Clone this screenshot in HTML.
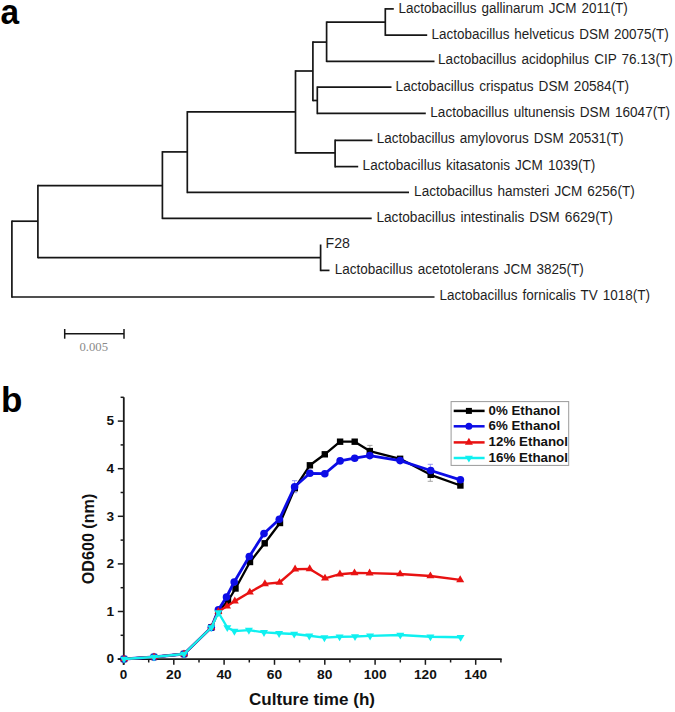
<!DOCTYPE html>
<html><head><meta charset="utf-8"><style>
html,body{margin:0;padding:0;background:#fff;}
svg{display:block;}
text{font-family:"Liberation Sans",sans-serif;}
</style></head><body>
<svg width="675" height="712" viewBox="0 0 675 712">
<rect width="675" height="712" fill="#fff"/>
<text x="0.6" y="23.6" font-size="35.5" font-weight="bold" fill="#000" textLength="18.6" lengthAdjust="spacingAndGlyphs">a</text>
<text x="0.9" y="412.2" font-size="35" font-weight="bold" fill="#000">b</text>
<g><line x1="385.3" y1="8.9" x2="393.8" y2="8.9" stroke="#161616" stroke-width="1.7"/><line x1="385.3" y1="35.1" x2="427.2" y2="35.1" stroke="#161616" stroke-width="1.7"/><line x1="385.3" y1="8.1" x2="385.3" y2="35.9" stroke="#161616" stroke-width="1.7"/><line x1="326.6" y1="22.2" x2="385.3" y2="22.2" stroke="#161616" stroke-width="1.7"/><line x1="326.6" y1="21.4" x2="326.6" y2="62.1" stroke="#161616" stroke-width="1.7"/><line x1="326.6" y1="61.3" x2="434.5" y2="61.3" stroke="#161616" stroke-width="1.7"/><line x1="312.9" y1="42.1" x2="326.6" y2="42.1" stroke="#161616" stroke-width="1.7"/><line x1="312.9" y1="41.3" x2="312.9" y2="101.3" stroke="#161616" stroke-width="1.7"/><line x1="312.9" y1="100.5" x2="317.3" y2="100.5" stroke="#161616" stroke-width="1.7"/><line x1="317.3" y1="86.4" x2="317.3" y2="114.2" stroke="#161616" stroke-width="1.7"/><line x1="317.3" y1="87.2" x2="391.5" y2="87.2" stroke="#161616" stroke-width="1.7"/><line x1="317.3" y1="113.4" x2="425.8" y2="113.4" stroke="#161616" stroke-width="1.7"/><line x1="295.5" y1="71" x2="312.9" y2="71" stroke="#161616" stroke-width="1.7"/><line x1="295.5" y1="70.2" x2="295.5" y2="153.7" stroke="#161616" stroke-width="1.7"/><line x1="295.5" y1="152.9" x2="335.1" y2="152.9" stroke="#161616" stroke-width="1.7"/><line x1="335.1" y1="139.6" x2="335.1" y2="167.4" stroke="#161616" stroke-width="1.7"/><line x1="335.1" y1="140.4" x2="372.4" y2="140.4" stroke="#161616" stroke-width="1.7"/><line x1="335.1" y1="166.6" x2="358.2" y2="166.6" stroke="#161616" stroke-width="1.7"/><line x1="187.3" y1="111.9" x2="295.5" y2="111.9" stroke="#161616" stroke-width="1.7"/><line x1="187.3" y1="111.1" x2="187.3" y2="193.2" stroke="#161616" stroke-width="1.7"/><line x1="187.3" y1="192.4" x2="409" y2="192.4" stroke="#161616" stroke-width="1.7"/><line x1="162.4" y1="151.9" x2="187.3" y2="151.9" stroke="#161616" stroke-width="1.7"/><line x1="162.4" y1="151.1" x2="162.4" y2="219.1" stroke="#161616" stroke-width="1.7"/><line x1="162.4" y1="218.3" x2="371.7" y2="218.3" stroke="#161616" stroke-width="1.7"/><line x1="37.9" y1="185.6" x2="162.4" y2="185.6" stroke="#161616" stroke-width="1.7"/><line x1="37.9" y1="184.8" x2="37.9" y2="258.2" stroke="#161616" stroke-width="1.7"/><line x1="37.9" y1="257.6" x2="320.6" y2="257.6" stroke="#161616" stroke-width="1.7"/><line x1="320.6" y1="244.5" x2="320.6" y2="271.2" stroke="#161616" stroke-width="1.7"/><line x1="320.6" y1="270.4" x2="329.5" y2="270.4" stroke="#161616" stroke-width="1.7"/><line x1="11.9" y1="221.2" x2="37.9" y2="221.2" stroke="#161616" stroke-width="1.7"/><line x1="11.9" y1="220.4" x2="11.9" y2="297.8" stroke="#161616" stroke-width="1.7"/><line x1="11.9" y1="297" x2="434.5" y2="297" stroke="#161616" stroke-width="1.7"/><line x1="64.7" y1="333.7" x2="124" y2="333.7" stroke="#161616" stroke-width="1.5"/><line x1="64.7" y1="329" x2="64.7" y2="338.7" stroke="#161616" stroke-width="1.5"/><line x1="124" y1="329" x2="124" y2="338.7" stroke="#161616" stroke-width="1.5"/></g>
<g font-size="14" fill="#1e1e1e" word-spacing="1.3"><text x="398.6" y="12.7" textLength="229.1" lengthAdjust="spacingAndGlyphs">Lactobacillus gallinarum JCM 2011(T)</text><text x="431.6" y="38.8" textLength="237.1" lengthAdjust="spacingAndGlyphs">Lactobacillus helveticus DSM 20075(T)</text><text x="438.1" y="64.2" textLength="234.6" lengthAdjust="spacingAndGlyphs">Lactobacillus acidophilus CIP 76.13(T)</text><text x="395.6" y="90.6" textLength="233.4" lengthAdjust="spacingAndGlyphs">Lactobacillus crispatus DSM 20584(T)</text><text x="430.3" y="117.1" textLength="239.7" lengthAdjust="spacingAndGlyphs">Lactobacillus ultunensis DSM 16047(T)</text><text x="376.8" y="142.9" textLength="246.6" lengthAdjust="spacingAndGlyphs">Lactobacillus amylovorus DSM 20531(T)</text><text x="362.6" y="170.0" textLength="232.8" lengthAdjust="spacingAndGlyphs">Lactobacillus kitasatonis JCM 1039(T)</text><text x="414.1" y="195.8" textLength="220.6" lengthAdjust="spacingAndGlyphs">Lactobacillus hamsteri JCM 6256(T)</text><text x="376.4" y="221.7" textLength="236.3" lengthAdjust="spacingAndGlyphs">Lactobacillus intestinalis DSM 6629(T)</text><text x="325.5" y="247.8" textLength="24.4" lengthAdjust="spacingAndGlyphs">F28</text><text x="334.8" y="274.2" textLength="248.9" lengthAdjust="spacingAndGlyphs">Lactobacillus acetotolerans JCM 3825(T)</text><text x="439.4" y="300.4" textLength="210.6" lengthAdjust="spacingAndGlyphs">Lactobacillus fornicalis TV 1018(T)</text></g>
<text x="79.5" y="351.4" font-size="13.3" fill="#8a8a8a" style="font-family:'Liberation Serif',serif" textLength="28.5" lengthAdjust="spacingAndGlyphs">0.005</text>
<g><line x1="123.8" y1="397.3" x2="123.8" y2="664.8" stroke="#1a1a1a" stroke-width="1.8"/><line x1="117.8" y1="659.1" x2="501.7" y2="659.1" stroke="#1a1a1a" stroke-width="1.7"/><line x1="117.8" y1="659.1" x2="123.8" y2="659.1" stroke="#1a1a1a" stroke-width="1.5"/><line x1="120.6" y1="635.3" x2="123.8" y2="635.3" stroke="#1a1a1a" stroke-width="1.5"/><line x1="117.8" y1="611.5" x2="123.8" y2="611.5" stroke="#1a1a1a" stroke-width="1.5"/><line x1="120.6" y1="587.7" x2="123.8" y2="587.7" stroke="#1a1a1a" stroke-width="1.5"/><line x1="117.8" y1="563.9" x2="123.8" y2="563.9" stroke="#1a1a1a" stroke-width="1.5"/><line x1="120.6" y1="540.1" x2="123.8" y2="540.1" stroke="#1a1a1a" stroke-width="1.5"/><line x1="117.8" y1="516.3" x2="123.8" y2="516.3" stroke="#1a1a1a" stroke-width="1.5"/><line x1="120.6" y1="492.5" x2="123.8" y2="492.5" stroke="#1a1a1a" stroke-width="1.5"/><line x1="117.8" y1="468.7" x2="123.8" y2="468.7" stroke="#1a1a1a" stroke-width="1.5"/><line x1="120.6" y1="444.9" x2="123.8" y2="444.9" stroke="#1a1a1a" stroke-width="1.5"/><line x1="117.8" y1="421.1" x2="123.8" y2="421.1" stroke="#1a1a1a" stroke-width="1.5"/><line x1="120.6" y1="397.3" x2="123.8" y2="397.3" stroke="#1a1a1a" stroke-width="1.5"/><line x1="123.5" y1="659.1" x2="123.5" y2="664.8" stroke="#1a1a1a" stroke-width="1.5"/><line x1="148.7" y1="659.1" x2="148.7" y2="662.5" stroke="#1a1a1a" stroke-width="1.5"/><line x1="173.8" y1="659.1" x2="173.8" y2="664.8" stroke="#1a1a1a" stroke-width="1.5"/><line x1="199.0" y1="659.1" x2="199.0" y2="662.5" stroke="#1a1a1a" stroke-width="1.5"/><line x1="224.1" y1="659.1" x2="224.1" y2="664.8" stroke="#1a1a1a" stroke-width="1.5"/><line x1="249.3" y1="659.1" x2="249.3" y2="662.5" stroke="#1a1a1a" stroke-width="1.5"/><line x1="274.5" y1="659.1" x2="274.5" y2="664.8" stroke="#1a1a1a" stroke-width="1.5"/><line x1="299.6" y1="659.1" x2="299.6" y2="662.5" stroke="#1a1a1a" stroke-width="1.5"/><line x1="324.8" y1="659.1" x2="324.8" y2="664.8" stroke="#1a1a1a" stroke-width="1.5"/><line x1="349.9" y1="659.1" x2="349.9" y2="662.5" stroke="#1a1a1a" stroke-width="1.5"/><line x1="375.1" y1="659.1" x2="375.1" y2="664.8" stroke="#1a1a1a" stroke-width="1.5"/><line x1="400.3" y1="659.1" x2="400.3" y2="662.5" stroke="#1a1a1a" stroke-width="1.5"/><line x1="425.4" y1="659.1" x2="425.4" y2="664.8" stroke="#1a1a1a" stroke-width="1.5"/><line x1="450.6" y1="659.1" x2="450.6" y2="662.5" stroke="#1a1a1a" stroke-width="1.5"/><line x1="475.7" y1="659.1" x2="475.7" y2="664.8" stroke="#1a1a1a" stroke-width="1.5"/><line x1="500.9" y1="659.1" x2="500.9" y2="662.5" stroke="#1a1a1a" stroke-width="1.5"/></g>
<g font-size="12.5" font-weight="bold" fill="#111"><text x="114.2" y="663.4" text-anchor="end" textLength="7.6" lengthAdjust="spacingAndGlyphs">0</text><text x="114.2" y="615.8" text-anchor="end" textLength="7.6" lengthAdjust="spacingAndGlyphs">1</text><text x="114.2" y="568.2" text-anchor="end" textLength="7.6" lengthAdjust="spacingAndGlyphs">2</text><text x="114.2" y="520.6" text-anchor="end" textLength="7.6" lengthAdjust="spacingAndGlyphs">3</text><text x="114.2" y="473.0" text-anchor="end" textLength="7.6" lengthAdjust="spacingAndGlyphs">4</text><text x="114.2" y="425.4" text-anchor="end" textLength="7.6" lengthAdjust="spacingAndGlyphs">5</text><text x="119.8" y="678.8" textLength="7.5" lengthAdjust="spacingAndGlyphs">0</text><text x="166.1" y="678.8" textLength="15.4" lengthAdjust="spacingAndGlyphs">20</text><text x="216.4" y="678.8" textLength="15.4" lengthAdjust="spacingAndGlyphs">40</text><text x="266.8" y="678.8" textLength="15.4" lengthAdjust="spacingAndGlyphs">60</text><text x="317.1" y="678.8" textLength="15.4" lengthAdjust="spacingAndGlyphs">80</text><text x="363.7" y="678.8" textLength="22.8" lengthAdjust="spacingAndGlyphs">100</text><text x="414.0" y="678.8" textLength="22.8" lengthAdjust="spacingAndGlyphs">120</text><text x="464.3" y="678.8" textLength="22.8" lengthAdjust="spacingAndGlyphs">140</text></g>
<text x="249" y="705" font-size="16.5" font-weight="bold" fill="#111" textLength="126" lengthAdjust="spacingAndGlyphs">Culture time (h)</text>
<text transform="translate(93.6,584.2) rotate(-90)" font-size="16.2" font-weight="bold" fill="#111" textLength="90.5" lengthAdjust="spacingAndGlyphs">OD600 (nm)</text>
<g><line x1="294.6" y1="480.7" x2="294.6" y2="492.7" stroke="#8a8af0" stroke-width="0.9"/><line x1="292.0" y1="480.7" x2="297.20000000000005" y2="480.7" stroke="#8a8af0" stroke-width="0.9"/><line x1="292.0" y1="492.7" x2="297.20000000000005" y2="492.7" stroke="#8a8af0" stroke-width="0.9"/><line x1="369.9" y1="445.4" x2="369.9" y2="456.4" stroke="#9a9a9a" stroke-width="0.9"/><line x1="367.29999999999995" y1="445.4" x2="372.5" y2="445.4" stroke="#9a9a9a" stroke-width="0.9"/><line x1="367.29999999999995" y1="456.4" x2="372.5" y2="456.4" stroke="#9a9a9a" stroke-width="0.9"/><line x1="430.3" y1="464.3" x2="430.3" y2="474.3" stroke="#8a8af0" stroke-width="0.9"/><line x1="427.7" y1="464.3" x2="432.90000000000003" y2="464.3" stroke="#8a8af0" stroke-width="0.9"/><line x1="427.7" y1="474.3" x2="432.90000000000003" y2="474.3" stroke="#8a8af0" stroke-width="0.9"/><line x1="430.3" y1="470.1" x2="430.3" y2="481.3" stroke="#9a9a9a" stroke-width="0.9"/><line x1="427.7" y1="470.1" x2="432.90000000000003" y2="470.1" stroke="#9a9a9a" stroke-width="0.9"/><line x1="427.7" y1="481.3" x2="432.90000000000003" y2="481.3" stroke="#9a9a9a" stroke-width="0.9"/><polyline points="124,659 154,657 184,654 211.3,627.5 218.4,611 228,601 235.5,588.5 250,562 264.7,543.3 280,523 294.8,488.2 309.9,465.3 324.8,454.3 340.1,441.7 354.7,441.7 369.8,451.1 400.1,458.8 430.7,474.8 460.4,485.5" fill="none" stroke="#000000" stroke-width="2.3" stroke-linejoin="round"/><rect x="120.8" y="655.8" width="6.4" height="6.4" fill="#000000"/><rect x="150.8" y="653.8" width="6.4" height="6.4" fill="#000000"/><rect x="180.8" y="650.8" width="6.4" height="6.4" fill="#000000"/><rect x="208.1" y="624.3" width="6.4" height="6.4" fill="#000000"/><rect x="215.2" y="607.8" width="6.4" height="6.4" fill="#000000"/><rect x="224.8" y="597.8" width="6.4" height="6.4" fill="#000000"/><rect x="232.3" y="585.3" width="6.4" height="6.4" fill="#000000"/><rect x="246.8" y="558.8" width="6.4" height="6.4" fill="#000000"/><rect x="261.5" y="540.1" width="6.4" height="6.4" fill="#000000"/><rect x="276.8" y="519.8" width="6.4" height="6.4" fill="#000000"/><rect x="291.6" y="485.0" width="6.4" height="6.4" fill="#000000"/><rect x="306.7" y="462.1" width="6.4" height="6.4" fill="#000000"/><rect x="321.6" y="451.1" width="6.4" height="6.4" fill="#000000"/><rect x="336.9" y="438.5" width="6.4" height="6.4" fill="#000000"/><rect x="351.5" y="438.5" width="6.4" height="6.4" fill="#000000"/><rect x="366.6" y="447.9" width="6.4" height="6.4" fill="#000000"/><rect x="396.9" y="455.6" width="6.4" height="6.4" fill="#000000"/><rect x="427.5" y="471.6" width="6.4" height="6.4" fill="#000000"/><rect x="457.2" y="482.3" width="6.4" height="6.4" fill="#000000"/><polyline points="124,659 154,657 184,654 211.3,627.5 218.4,609.8 226.5,597 234.2,582 249.3,556.5 264,533.6 279.3,519.3 294.6,486.7 309.9,473.3 324.8,473.7 340.1,460.9 354.7,458.2 369.8,455.6 400.1,460.6 430.7,470.5 460.4,479.8" fill="none" stroke="#0c0ce6" stroke-width="2.8" stroke-linejoin="round"/><circle cx="124" cy="659" r="3.8" fill="#0c0ce6"/><circle cx="154" cy="657" r="3.8" fill="#0c0ce6"/><circle cx="184" cy="654" r="3.8" fill="#0c0ce6"/><circle cx="211.3" cy="627.5" r="3.8" fill="#0c0ce6"/><circle cx="218.4" cy="609.8" r="3.8" fill="#0c0ce6"/><circle cx="226.5" cy="597" r="3.8" fill="#0c0ce6"/><circle cx="234.2" cy="582" r="3.8" fill="#0c0ce6"/><circle cx="249.3" cy="556.5" r="3.8" fill="#0c0ce6"/><circle cx="264" cy="533.6" r="3.8" fill="#0c0ce6"/><circle cx="279.3" cy="519.3" r="3.8" fill="#0c0ce6"/><circle cx="294.6" cy="486.7" r="3.8" fill="#0c0ce6"/><circle cx="309.9" cy="473.3" r="3.8" fill="#0c0ce6"/><circle cx="324.8" cy="473.7" r="3.8" fill="#0c0ce6"/><circle cx="340.1" cy="460.9" r="3.8" fill="#0c0ce6"/><circle cx="354.7" cy="458.2" r="3.8" fill="#0c0ce6"/><circle cx="369.8" cy="455.6" r="3.8" fill="#0c0ce6"/><circle cx="400.1" cy="460.6" r="3.8" fill="#0c0ce6"/><circle cx="430.7" cy="470.5" r="3.8" fill="#0c0ce6"/><circle cx="460.4" cy="479.8" r="3.8" fill="#0c0ce6"/><polyline points="124,659 154,657 184,654 211.3,627.5 218.4,611.5 227,606.3 234.8,601.1 249.8,592.3 264.9,583.9 279.5,582.5 295.1,569.2 309.7,568.9 325,578.3 339.9,574.2 354.5,573 369.6,573.1 400.1,574 430.4,576 460.2,579.9" fill="none" stroke="#e81212" stroke-width="2.4" stroke-linejoin="round"/><path d="M124.0,654.4L128.0,661.3L120.0,661.3Z" fill="#e81212"/><path d="M154.0,652.4L158.0,659.3L150.0,659.3Z" fill="#e81212"/><path d="M184.0,649.4L188.0,656.3L180.0,656.3Z" fill="#e81212"/><path d="M211.3,622.9L215.3,629.8L207.3,629.8Z" fill="#e81212"/><path d="M218.4,606.9L222.4,613.8L214.4,613.8Z" fill="#e81212"/><path d="M227.0,601.7L231.0,608.6L223.0,608.6Z" fill="#e81212"/><path d="M234.8,596.5L238.8,603.4L230.8,603.4Z" fill="#e81212"/><path d="M249.8,587.7L253.8,594.6L245.8,594.6Z" fill="#e81212"/><path d="M264.9,579.3L268.9,586.2L260.9,586.2Z" fill="#e81212"/><path d="M279.5,577.9L283.5,584.8L275.5,584.8Z" fill="#e81212"/><path d="M295.1,564.6L299.1,571.5L291.1,571.5Z" fill="#e81212"/><path d="M309.7,564.3L313.7,571.2L305.7,571.2Z" fill="#e81212"/><path d="M325.0,573.7L329.0,580.6L321.0,580.6Z" fill="#e81212"/><path d="M339.9,569.6L343.9,576.5L335.9,576.5Z" fill="#e81212"/><path d="M354.5,568.4L358.5,575.3L350.5,575.3Z" fill="#e81212"/><path d="M369.6,568.5L373.6,575.4L365.6,575.4Z" fill="#e81212"/><path d="M400.1,569.4L404.1,576.3L396.1,576.3Z" fill="#e81212"/><path d="M430.4,571.4L434.4,578.3L426.4,578.3Z" fill="#e81212"/><path d="M460.2,575.3L464.2,582.2L456.2,582.2Z" fill="#e81212"/><polyline points="124,659 154,657 184,654 211.3,627.5 218.4,612.5 227.3,627.5 234.4,631.1 248.9,630.1 264,632.4 279.1,633.3 294.2,634.0 309.3,635.8 324.4,637.6 339.6,636.7 355,636.5 370.1,635.9 400.3,635.0 430.4,636.7 460.6,637.2" fill="none" stroke="#10f0f0" stroke-width="2.4" stroke-linejoin="round"/><path d="M124.0,663.6L128.0,656.7L120.0,656.7Z" fill="#10f0f0"/><path d="M154.0,661.6L158.0,654.7L150.0,654.7Z" fill="#10f0f0"/><path d="M184.0,658.6L188.0,651.7L180.0,651.7Z" fill="#10f0f0"/><path d="M211.3,632.1L215.3,625.2L207.3,625.2Z" fill="#10f0f0"/><path d="M218.4,617.1L222.4,610.2L214.4,610.2Z" fill="#10f0f0"/><path d="M227.3,632.1L231.3,625.2L223.3,625.2Z" fill="#10f0f0"/><path d="M234.4,635.7L238.4,628.8L230.4,628.8Z" fill="#10f0f0"/><path d="M248.9,634.7L252.9,627.8L244.9,627.8Z" fill="#10f0f0"/><path d="M264.0,637.0L268.0,630.1L260.0,630.1Z" fill="#10f0f0"/><path d="M279.1,637.9L283.1,631.0L275.1,631.0Z" fill="#10f0f0"/><path d="M294.2,638.6L298.2,631.7L290.2,631.7Z" fill="#10f0f0"/><path d="M309.3,640.4L313.3,633.5L305.3,633.5Z" fill="#10f0f0"/><path d="M324.4,642.2L328.4,635.3L320.4,635.3Z" fill="#10f0f0"/><path d="M339.6,641.3L343.6,634.4L335.6,634.4Z" fill="#10f0f0"/><path d="M355.0,641.1L359.0,634.2L351.0,634.2Z" fill="#10f0f0"/><path d="M370.1,640.5L374.1,633.6L366.1,633.6Z" fill="#10f0f0"/><path d="M400.3,639.6L404.3,632.7L396.3,632.7Z" fill="#10f0f0"/><path d="M430.4,641.3L434.4,634.4L426.4,634.4Z" fill="#10f0f0"/><path d="M460.6,641.8L464.6,634.9L456.6,634.9Z" fill="#10f0f0"/></g>
<g font-size="12.2" font-weight="bold" fill="#111"><rect x="451.1" y="401.6" width="117.6" height="63.8" fill="#fff" stroke="#9a9a9a" stroke-width="1"/><line x1="453.7" y1="410.9" x2="484.6" y2="410.9" stroke="#000000" stroke-width="2.5"/><rect x="465.9" y="407.9" width="6" height="6" fill="#000000"/><text x="488.6" y="414.5" textLength="71.6" lengthAdjust="spacingAndGlyphs">0% Ethanol</text><line x1="453.7" y1="426.3" x2="484.6" y2="426.3" stroke="#0c0ce6" stroke-width="2.5"/><circle cx="468.9" cy="426.3" r="3.5" fill="#0c0ce6"/><text x="488.6" y="429.9" textLength="71.6" lengthAdjust="spacingAndGlyphs">6% Ethanol</text><line x1="453.7" y1="442.4" x2="484.6" y2="442.4" stroke="#e81212" stroke-width="2.5"/><path d="M468.9,437.8L472.9,444.7L464.9,444.7Z" fill="#e81212"/><text x="488.6" y="446.0" textLength="79.4" lengthAdjust="spacingAndGlyphs">12% Ethanol</text><line x1="453.7" y1="458" x2="484.6" y2="458" stroke="#10f0f0" stroke-width="2.5"/><path d="M468.9,462.6L472.9,455.7L464.9,455.7Z" fill="#10f0f0"/><text x="488.6" y="461.6" textLength="79.4" lengthAdjust="spacingAndGlyphs">16% Ethanol</text></g>
</svg>
</body></html>
